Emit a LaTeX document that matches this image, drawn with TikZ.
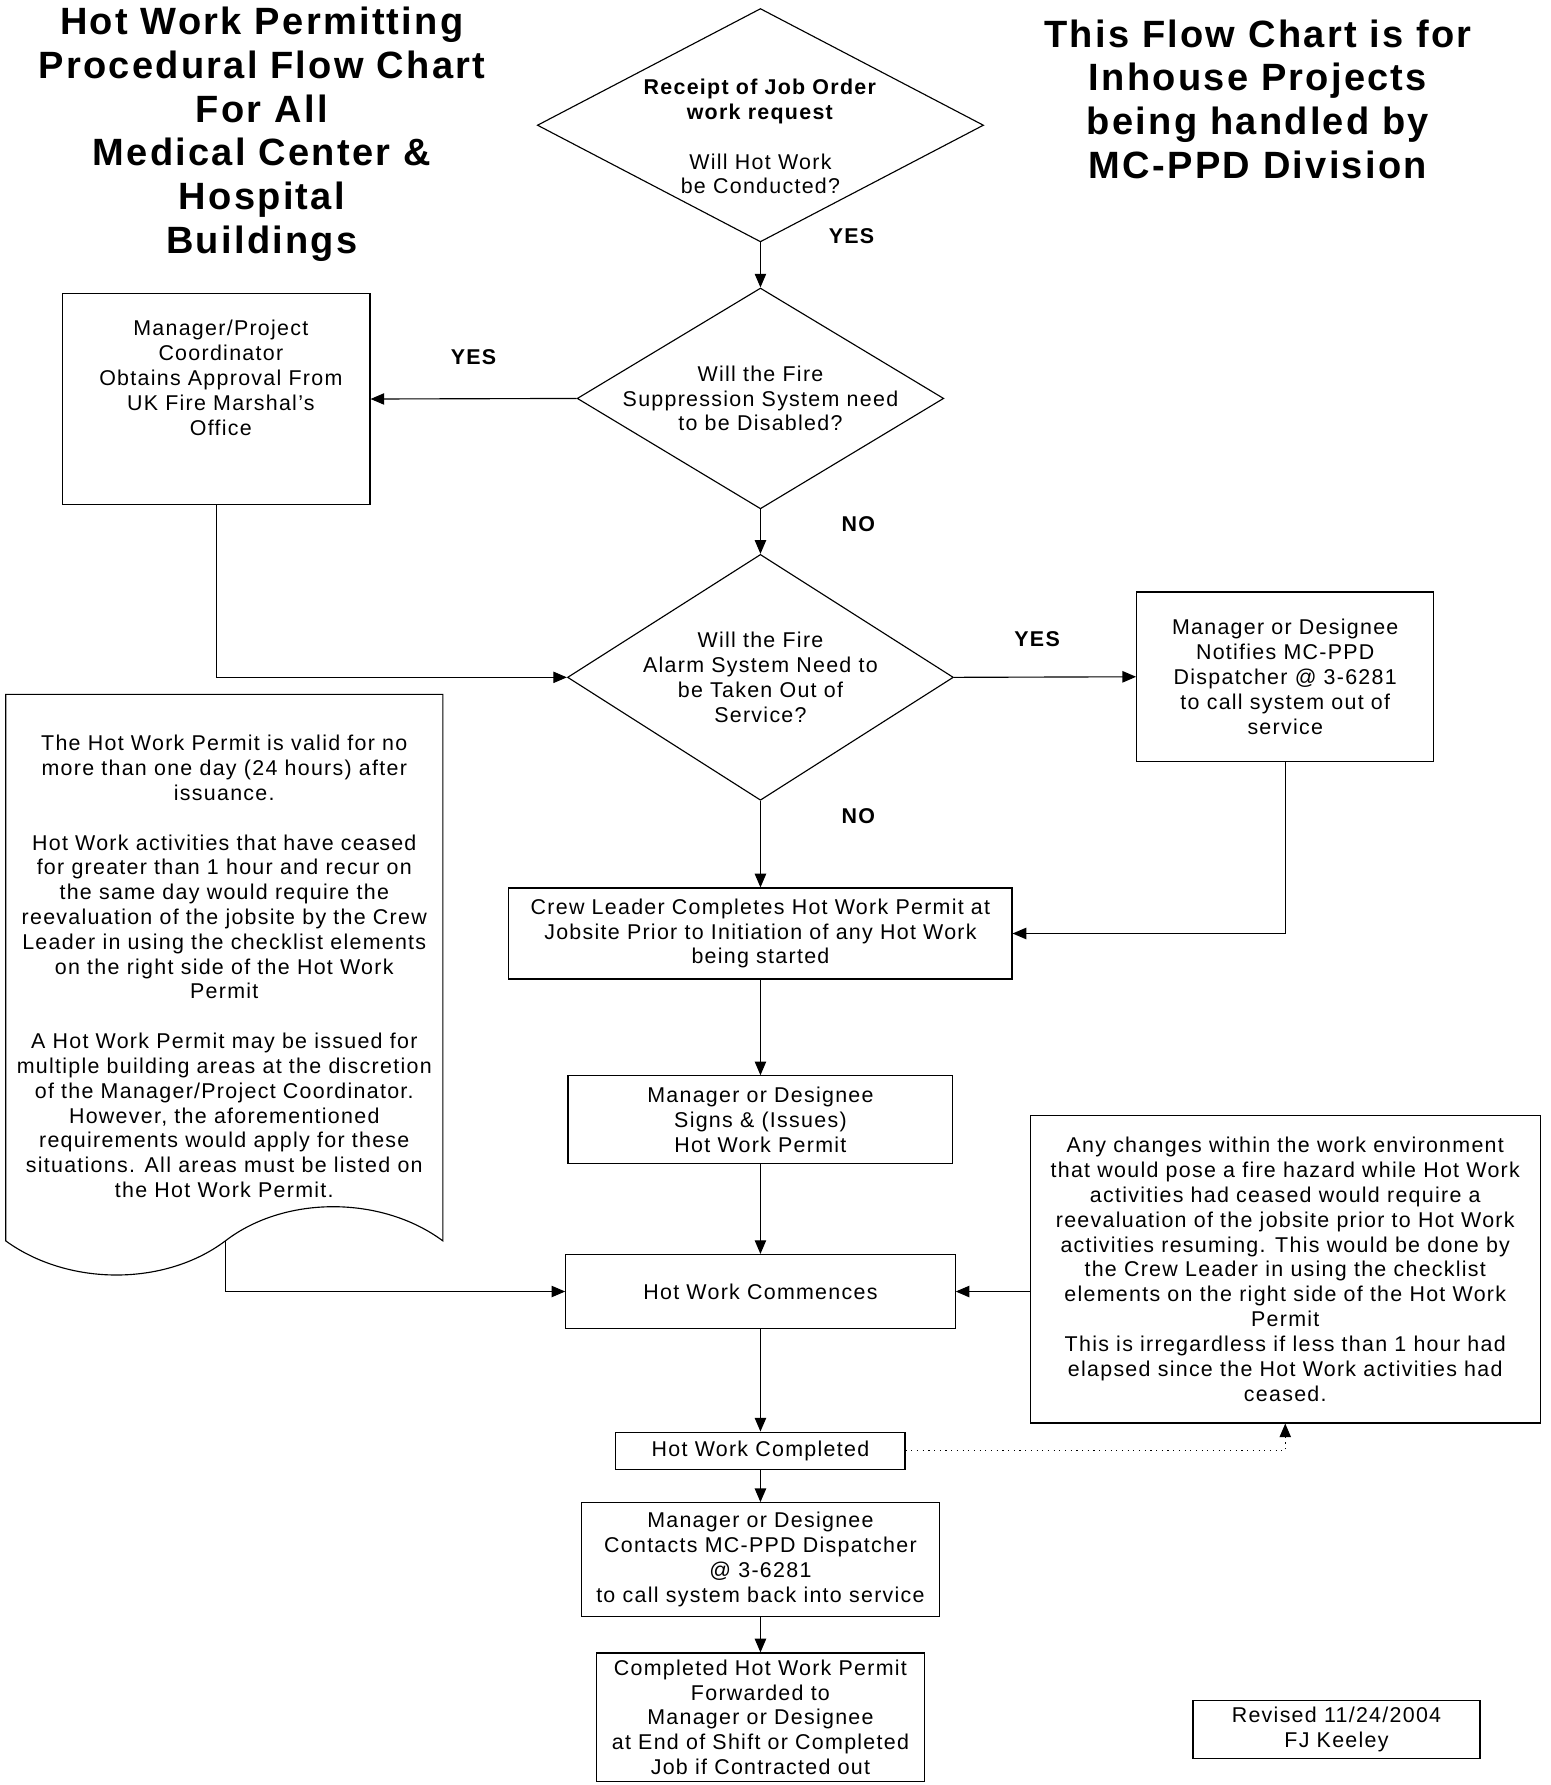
\documentclass[tikz,border=0pt]{standalone}
\usepackage{fontspec}
\setmainfont{Liberation Sans}[LetterSpace=6]
\usetikzlibrary{shapes.geometric,arrows.meta}

\tikzset{
  txt/.style={font=\fontsize{9.4}{10.9}\selectfont, align=center},
  procbox/.style={txt, draw, rectangle, line width=0.5pt, inner sep=0pt},
  decision/.style={draw, diamond, line width=0.5pt, inner sep=0pt},
  answer/.style={font=\fontsize{9.4}{10.9}\selectfont\bfseries},
  heading/.style={font=\fontsize{16.7}{19.2}\selectfont\bfseries, align=center},
  flow/.style={line width=0.5pt, -{Triangle[length=6pt,width=5pt]}},
}

\begin{document}
\begin{tikzpicture}[x=0.5pt, y=-0.5pt]
    \useasboundingbox (0,0) rectangle (1362,1568);
    % titles
    \node[heading] (title) at (230,118) {Hot Work Permitting\\Procedural Flow Chart\\For All\\Medical Center \&\\Hospital\\Buildings};
    \node[heading] (scope) at (1105,87) {This Flow Chart is for\\Inhouse Projects\\being handled by\\MC-PPD Division};

    % decisions
    \node[decision, minimum width=196pt, minimum height=102.5pt,
      label={[txt, yshift=-5pt]center:\textbf{Receipt of Job Order}\\\textbf{work request}\\[10.9pt]Will Hot Work\\be Conducted?}] (d1) at (668,110) {};
    \node[decision, minimum width=161pt, minimum height=97pt,
      label={[txt]center:Will the Fire\\Suppression System need\\to be Disabled?}] (d2) at (668,350) {};
    \node[decision, minimum width=169.5pt, minimum height=108pt,
      label={[txt]center:Will the Fire\\Alarm System Need to\\be Taken Out of\\Service?}] (d3) at (668,595) {};

    % boxes
    \node[procbox, minimum width=135pt, minimum height=92.5pt] (approval) at (190,350.5) {};
    \node[txt] (approvaltext) at (194,332) {Manager/Project\\Coordinator\\Obtains Approval From\\UK Fire Marshal's\\Office};
    \node[procbox, minimum width=130.5pt, minimum height=74.5pt] (notify) at (1129,594.5) {Manager or Designee\\Notifies MC-PPD\\Dispatcher @ 3-6281\\to call system out of\\service};
    \node[procbox, minimum width=221pt, minimum height=40pt] (crew) at (668,820) {Crew Leader Completes Hot Work Permit at\\Jobsite Prior to Initiation of any Hot Work\\being started};
    \node[procbox, minimum width=169pt, minimum height=38.5pt] (signs) at (668,983.5) {Manager or Designee\\Signs \& (Issues)\\Hot Work Permit};
    \node[procbox, minimum width=171pt, minimum height=32.5pt] (commence) at (668,1134.5) {Hot Work Commences};
    \node[procbox, minimum width=127pt, minimum height=16.5pt] (completed) at (668,1274.5) {Hot Work Completed};
    \node[procbox, minimum width=157pt, minimum height=50pt] (contacts) at (668,1370) {Manager or Designee\\Contacts MC-PPD Dispatcher\\@ 3-6281\\to call system back into service};
    \node[procbox, minimum width=144pt, minimum height=56.5pt] (forward) at (668,1508.5) {Completed Hot Work Permit\\Forwarded to\\Manager or Designee\\at End of Shift or Completed\\Job if Contracted out};
    \node[procbox, minimum width=224pt, minimum height=135pt] (changes) at (1129,1115) {Any changes within the work environment\\that would pose a fire hazard while Hot Work\\activities had ceased would require a\\reevaluation of the jobsite prior to Hot Work\\activities resuming.  This would be done by\\the Crew Leader in using the checklist\\elements on the right side of the Hot Work\\Permit\\This is irregardless if less than 1 hour had\\elapsed since the Hot Work activities had\\ceased.};
    \node[procbox, minimum width=126pt, minimum height=25.5pt] (revised) at (1174,1519.5) {Revised 11/24/2004\\FJ Keeley};

    % document shape
    \draw[line width=0.5pt] (5,1090) -- (5,610) -- (389,610) -- (389,1090)
      .. controls (335,1050) and (250,1050) .. (198,1090)
      .. controls (145,1130) and (60,1130) .. (5,1090) -- cycle;
    \coordinate (doctail) at (198,1090);
    \node[txt] (docnote) at (197,849) {The Hot Work Permit is valid for no\\more than one day (24 hours) after\\issuance.\\[10.9pt]Hot Work activities that have ceased\\for greater than 1 hour and recur on\\the same day would require the\\reevaluation of the jobsite by the Crew\\Leader in using the checklist elements\\on the right side of the Hot Work\\Permit\\[10.9pt]A Hot Work Permit may be issued for\\multiple building areas at the discretion\\of the Manager/Project Coordinator.\\However, the aforementioned\\requirements would apply for these\\situations.  All areas must be listed on\\the Hot Work Permit.};

    % answers
    \node[answer] (yes1) at (748,207) {YES};
    \node[answer] (yes2) at (416,314) {YES};
    \node[answer] (no1) at (754,460) {NO};
    \node[answer] (yes3) at (911,561) {YES};
    \node[answer] (no2) at (754,717) {NO};

    % connectors
    \draw[flow] (d1.south) -- (d2.north);
    \draw[flow] (d2.west) -- (approval.east);
    \draw[flow] (d2.south) -- (d3.north);
    \draw[flow] (approval.south) |- (d3.west);
    \draw[flow] (d3.east) -- (notify.west);
    \draw[flow] (d3.south) -- (crew.north);
    \draw[flow] (notify.south) |- (crew.east);
    \draw[flow] (crew.south) -- (signs.north);
    \draw[flow] (signs.south) -- (commence.north);
    \draw[flow] (doctail) |- (commence.west);
    \draw[flow] (commence.east -| changes.west) -- (commence.east);
    \draw[flow] (commence.south) -- (completed.north);
    \draw[flow, dotted] (completed.east) -| (changes.south);
    \draw[flow] (completed.south) -- (contacts.north);
    \draw[flow] (contacts.south) -- (forward.north);
\end{tikzpicture}
\end{document}
